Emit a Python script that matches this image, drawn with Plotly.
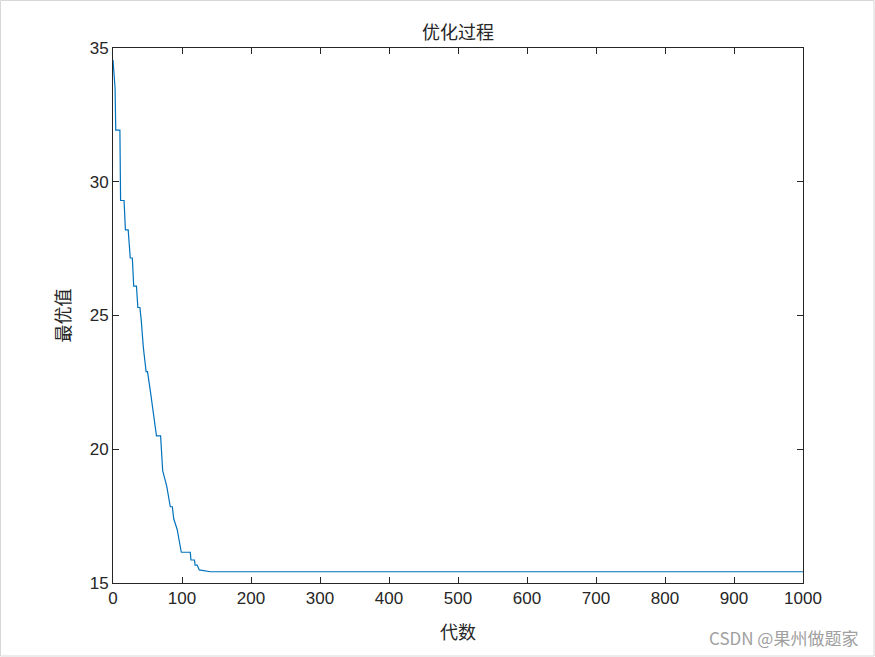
import plotly.graph_objects as go

# Best value traced per generation (breakpoints of the recorded curve)
gens = [0, 1, 2, 3, 4, 10, 11, 16, 18, 22, 25, 28, 30, 34, 36, 39, 41, 44, 48, 50, 54, 56, 63, 69, 72,
        75, 78, 83, 86, 88, 93, 99, 112, 113, 118, 119, 122, 125, 140, 141, 1000]
best = [34.55, 34.2, 33.6, 33.5, 31.93, 31.93, 29.3, 29.3, 28.2, 28.2, 27.15, 27.15, 26.1, 26.1, 25.3, 25.3,
        24.8, 23.8, 22.9, 22.9, 22.2, 21.8, 20.5, 20.5, 19.2, 18.9, 18.6, 17.85, 17.85, 17.4, 17.0, 16.15,
        16.15, 15.86, 15.86, 15.67, 15.67, 15.49, 15.45, 15.42, 15.42]

x_ticks = [0, 100, 200, 300, 400, 500, 600, 700, 800, 900, 1000]
y_ticks = [15, 20, 25, 30, 35]

title_text = "优化过程"
x_label = "代数"
y_label = "最优值"
watermark = "CSDN @果州做题家"

axis_color = "#262626"
cjk = "Noto Sans CJK SC"

fig = go.Figure()
fig.add_trace(go.Scatter(
    x=gens, y=best, mode="lines",
    line=dict(color="#0072BD", width=1.2), showlegend=False,
))

common = dict(
    showline=True, linecolor=axis_color, linewidth=1, mirror="ticks",
    ticks="inside", ticklen=6, tickcolor=axis_color, showgrid=False, zeroline=False,
    tickfont=dict(family="Liberation Sans, Arial", size=17, color=axis_color),
)

fig.update_xaxes(range=[0, 1000], tickvals=x_ticks, **common,
                 title=dict(text=x_label, font=dict(family=cjk, size=18, color=axis_color), standoff=18))
fig.update_yaxes(range=[15, 35], tickvals=y_ticks, **common,
                 title=dict(text=y_label, font=dict(family=cjk, size=18, color=axis_color), standoff=14))

fig.update_layout(
    width=875, height=657,
    margin=dict(l=113, r=72, t=48, b=74),
    paper_bgcolor="white", plot_bgcolor="white",
    title=dict(text=title_text, x=(113 + 803) / 2 / 875, xanchor="center", y=1 - 33 / 657, yanchor="middle",
               font=dict(family=cjk, size=18, color=axis_color)),
    annotations=[dict(text=watermark, xref="paper", yref="paper", x=(860 - 113) / 690, y=-(637 - 583) / 535,
                      xanchor="right", yanchor="middle", showarrow=False,
                      font=dict(family=cjk, size=17, color="#a0a0a0"))],
    shapes=[dict(type="rect", xref="paper", yref="paper", x0=-112.5 / 690, x1=1 + 71 / 690,
                 y0=-73 / 535, y1=1 + 47.5 / 535, line=dict(color="#d8d8d8", width=1))],
)

fig.write_html("out.html", config={"displayModeBar": False},
               post_script="document.body.style.margin='0';document.body.style.overflow='hidden';")
